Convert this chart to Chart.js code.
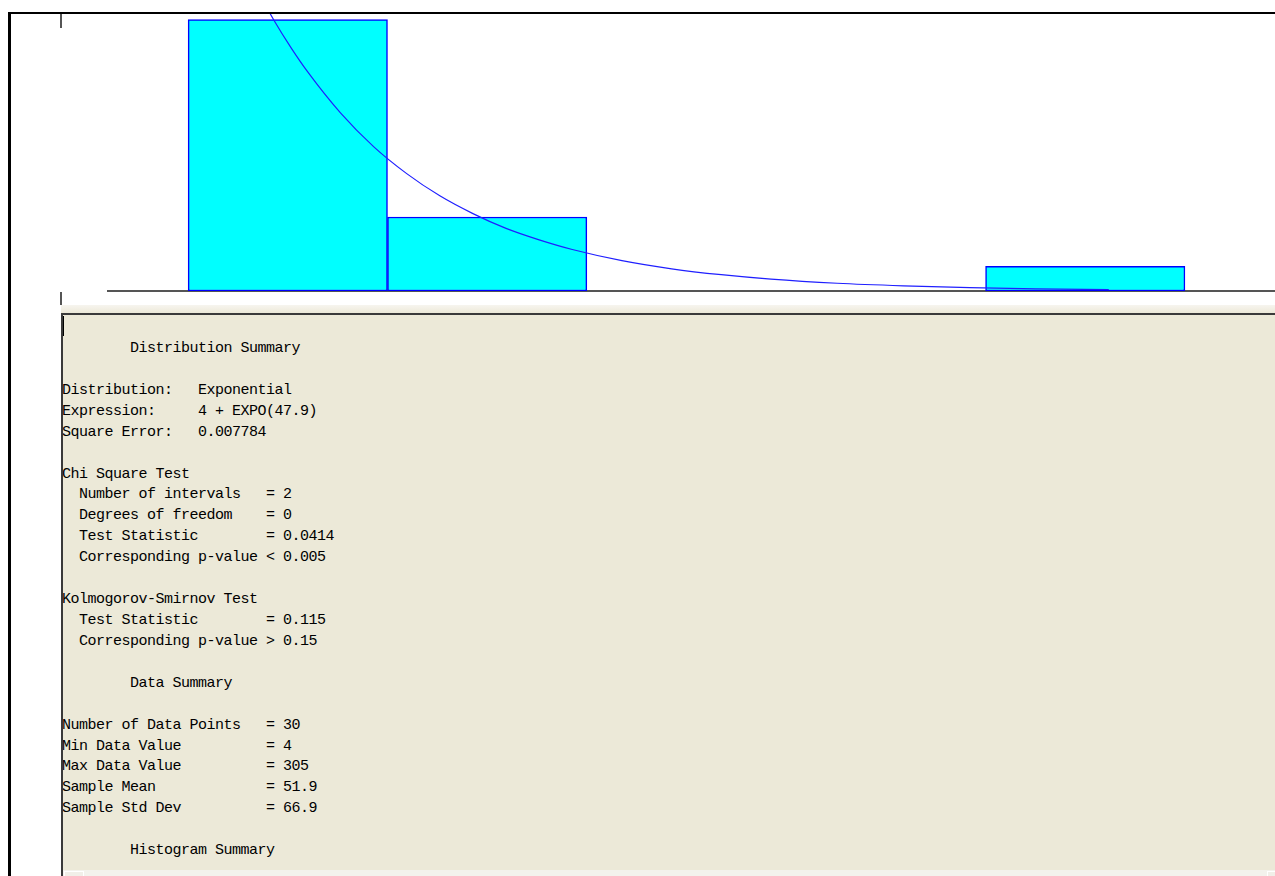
<!DOCTYPE html>
<html>
<head>
<meta charset="utf-8">
<title>Input Analyzer – Exponential fit</title>
<script src="https://cdn.jsdelivr.net/npm/chart.js@4/dist/chart.umd.min.js"></script>
<style>
  html, body { margin: 0; padding: 0; }
  body { width: 1275px; height: 876px; background: #ffffff; position: relative; overflow: hidden; }
  .frame { position: absolute; left: 8px; top: 12px; right: -10px; bottom: -10px;
           border-left: 3px solid #000; border-top: 2px solid #000; }
  .stub { position: absolute; left: 60px; width: 2px; background: #555; }
  #plot { position: absolute; left: 107px; top: 14px; }
  .strip { position: absolute; left: 61px; top: 305px; right: 0; height: 8px;
           background: linear-gradient(#f7f5ef, #ece9d8); }
  .panel { position: absolute; left: 61px; top: 313px; right: -5px; bottom: -5px;
           background: #ece9d8; border-left: 2px solid #3a3a3a; border-top: 2px solid #3a3a3a;
           overflow: hidden; }
  .caret { position: absolute; left: 0; top: 1px; width: 1px; height: 20px; background: #000; }
  pre.report { position: absolute; left: -1px; top: 24px; margin: 0;
               font-family: "Liberation Mono", "DejaVu Sans Mono", monospace;
               font-size: 15px; letter-spacing: -0.5px; line-height: 20.92px; color: #000; }
  .hscroll { position: absolute; left: 63px; top: 870px; right: 0; height: 6px; background: #f3f2ec; }
  .hscroll .box { position: absolute; top: 1px; width: 18px; height: 6px; border: 1px solid #fff; background: #f1efe8; }
</style>
</head>
<body>
<div class="frame"></div>
<div class="stub" style="top:14px;height:14px"></div>
<div class="stub" style="top:292px;height:13px"></div>
<canvas id="plot" width="1168" height="289"></canvas>
<div class="strip"></div>
<div class="panel">
  <div class="caret"></div>
  <pre class="report" id="report"></pre>
</div>
<div class="hscroll"><div class="box" style="left:1px"></div><div class="box" style="left:1204px"></div></div>

<script>
// Histogram of the 30 observations (5 equal-width intervals from 4 to 305)
const binEdges   = [4, 64.2, 124.4, 184.6, 244.8, 305];
const binCenters = [34.1, 94.3, 154.5, 214.7, 274.9];
const binCounts  = [22, 6, 0, 0, 2];
const sampleSize = 30;

// Fitted density 4 + EXPO(47.9), scaled to interval probability
const fitX = [4, 10, 15, 20, 25, 30, 35, 40, 50, 60, 70, 80, 90, 100, 110, 120,
              135, 150, 165, 180, 200, 220, 240, 260, 282];
const fitY = [1.257, 1.109, 0.999, 0.900, 0.811, 0.730, 0.658, 0.593, 0.481, 0.390,
              0.317, 0.257, 0.209, 0.169, 0.138, 0.112, 0.082, 0.060, 0.044, 0.032,
              0.021, 0.014, 0.009, 0.006, 0.004];

// Summary report lines
const reportLines = [
  "        Distribution Summary",
  "",
  "Distribution:   Exponential",
  "Expression:     4 + EXPO(47.9)",
  "Square Error:   0.007784",
  "",
  "Chi Square Test",
  "  Number of intervals   = 2",
  "  Degrees of freedom    = 0",
  "  Test Statistic        = 0.0414",
  "  Corresponding p-value < 0.005",
  "",
  "Kolmogorov-Smirnov Test",
  "  Test Statistic        = 0.115",
  "  Corresponding p-value > 0.15",
  "",
  "        Data Summary",
  "",
  "Number of Data Points   = 30",
  "Min Data Value          = 4",
  "Max Data Value          = 305",
  "Sample Mean             = 51.9",
  "Sample Std Dev          = 66.9",
  "",
  "        Histogram Summary"
];
document.getElementById('report').textContent = reportLines.join('\n');

const barData = binCenters.map((c, i) => ({ x: c, y: binCounts[i] / sampleSize }));
const fitData = fitX.map((x, i) => ({ x: x, y: fitY[i] }));

new Chart(document.getElementById('plot'), {
  type: 'bar',
  data: {
    datasets: [
      {
        type: 'line',
        data: fitData,
        borderColor: '#1f1fff',
        borderWidth: 1.2,
        pointRadius: 0,
        fill: false,
        cubicInterpolationMode: 'monotone',
        order: 0
      },
      {
        type: 'bar',
        data: barData,
        backgroundColor: '#00ffff',
        borderColor: '#0000ff',
        borderWidth: 1.5,
        borderSkipped: false,
        categoryPercentage: 1,
        barPercentage: 1,
        order: 1
      }
    ]
  },
  options: {
    responsive: false,
    devicePixelRatio: 1,
    animation: false,
    layout: { padding: { left: 0, right: 0, top: 0, bottom: 4 } },
    plugins: { legend: { display: false }, tooltip: { enabled: false } },
    scales: {
      x: {
        type: 'linear',
        offset: false,
        min: -20.5,
        max: 332.2,
        grid: { display: false, offset: false },
        ticks: { display: false },
        border: { display: true, color: '#555555', width: 2 },
        afterBuildTicks: (scale) => { scale.ticks = binEdges.map(v => ({ value: v })); }
      },
      y: {
        type: 'linear',
        min: 0,
        max: 0.7482,
        display: false
      }
    }
  }
});
</script>
</body>
</html>
